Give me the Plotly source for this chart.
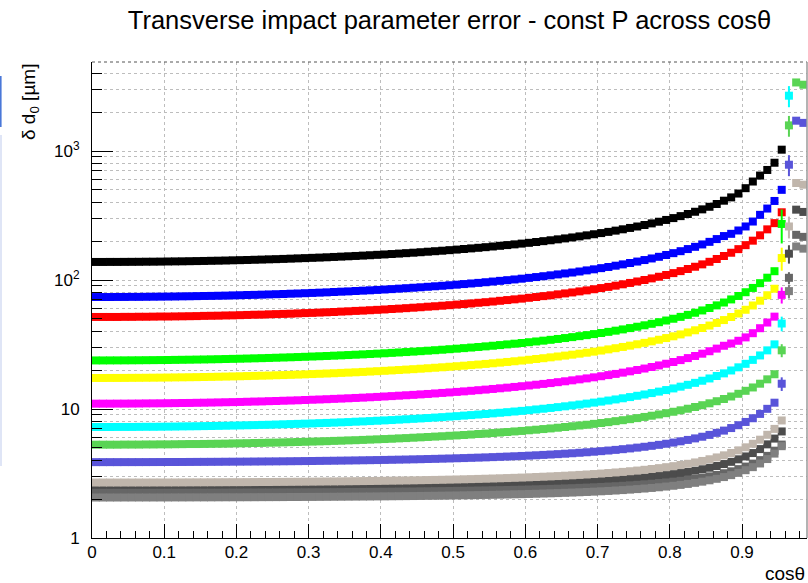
import plotly.graph_objects as go

# cos(theta) binning: 99 bins of width 0.01 from 0 to 0.99
BIN_WIDTH = 0.01
N_BINS = 99
cos_theta = [round(BIN_WIDTH * (i + 0.5), 3) for i in range(N_BINS)]

x_ticks = [0.0, 0.1, 0.2, 0.3, 0.4, 0.5, 0.6, 0.7, 0.8, 0.9]
x_ticktext = ["0", "0.1", "0.2", "0.3", "0.4", "0.5", "0.6", "0.7", "0.8", "0.9"]
y_ticks = [1, 10, 100, 1000]
y_ticktext = ["1", "10", "10<sup>2</sup>", "10<sup>3</sup>"]

# delta d0 [um] per cos(theta) bin, one list per momentum
d0_black = [
    138.0, 138.0, 138.1, 138.1, 138.2, 138.3, 138.4, 138.6, 138.7, 138.9,
    139.2, 139.4, 139.6, 139.9, 140.2, 140.5, 140.9, 141.2, 141.6, 142.1,
    142.5, 143.0, 143.5, 144.0, 144.6, 145.1, 145.7, 146.4, 147.1, 147.8,
    148.5, 149.2, 150.0, 150.9, 151.8, 152.7, 153.6, 154.6, 155.6, 156.7,
    157.8, 159.0, 160.2, 161.5, 162.8, 164.2, 165.7, 167.2, 168.7, 170.4,
    172.1, 173.9, 175.8, 177.7, 179.7, 181.9, 184.1, 186.5, 188.9, 191.5,
    194.2, 197.1, 200.1, 203.2, 206.6, 210.1, 213.8, 217.8, 221.9, 226.3,
    231.1, 236.1, 241.4, 247.2, 253.3, 259.9, 267.0, 274.7, 283.0, 292.1,
    302.0, 312.8, 324.8, 338.1, 352.9, 369.5, 388.3, 412, 437, 468,
    515, 580, 645, 713, 811, 1024,
]
d0_red = [
    51.7, 51.7, 51.7, 51.7, 51.8, 51.8, 51.9, 51.9, 52.0, 52.1,
    52.1, 52.2, 52.3, 52.4, 52.5, 52.7, 52.8, 52.9, 53.1, 53.2,
    53.4, 53.6, 53.8, 53.9, 54.2, 54.4, 54.6, 54.8, 55.1, 55.4,
    55.6, 55.9, 56.2, 56.5, 56.9, 57.2, 57.6, 57.9, 58.3, 58.7,
    59.1, 59.6, 60.0, 60.5, 61.0, 61.5, 62.1, 62.6, 63.2, 63.8,
    64.5, 65.1, 65.8, 66.6, 67.3, 68.1, 69.0, 69.9, 70.8, 71.7,
    72.8, 73.8, 75.0, 76.1, 77.4, 78.7, 80.1, 81.6, 83.1, 84.8,
    86.6, 88.4, 90.4, 92.6, 94.9, 97.4, 100.0, 102.9, 106.0, 109.4,
    113.1, 117.2, 121.7, 126.7, 132.2, 138.4, 145.5, 153.5, 162.7, 173.5,
    186.3, 201.8, 222, 247, 276, 335,
]
d0_green = [
    23.8, 23.8, 23.81, 23.82, 23.83, 23.85, 23.87, 23.9, 23.92, 23.95,
    23.99, 24.03, 24.07, 24.11, 24.16, 24.21, 24.27, 24.33, 24.4, 24.47,
    24.54, 24.62, 24.7, 24.78, 24.87, 24.97, 25.07, 25.17, 25.28, 25.39,
    25.52, 25.64, 25.77, 25.91, 26.05, 26.2, 26.35, 26.51, 26.68, 26.86,
    27.04, 27.23, 27.43, 27.64, 27.85, 28.08, 28.31, 28.56, 28.81, 29.08,
    29.35, 29.64, 29.95, 30.26, 30.59, 30.94, 31.3, 31.68, 32.08, 32.49,
    32.93, 33.39, 33.87, 34.38, 34.92, 35.48, 36.08, 36.71, 37.37, 38.08,
    38.83, 39.64, 40.49, 41.4, 42.38, 43.43, 44.55, 45.77, 47.09, 48.52,
    50.08, 51.79, 53.67, 55.75, 58.07, 60.66, 63.58, 66.9, 70.7, 75.2,
    80.4, 86.8, 94.5, 104.2, 117.0, 272,
]
d0_blue = [
    73.8, 73.8, 73.8, 73.9, 73.9, 74.0, 74.0, 74.1, 74.2, 74.3,
    74.4, 74.5, 74.7, 74.8, 75.0, 75.2, 75.3, 75.5, 75.7, 76.0,
    76.2, 76.5, 76.7, 77.0, 77.3, 77.6, 77.9, 78.3, 78.6, 79.0,
    79.4, 79.8, 80.2, 80.7, 81.2, 81.6, 82.2, 82.7, 83.2, 83.8,
    84.4, 85.0, 85.7, 86.4, 87.1, 87.8, 88.6, 89.4, 90.2, 91.1,
    92.0, 93.0, 94.0, 95.0, 96.1, 97.3, 98.5, 99.7, 101.0, 102.4,
    103.9, 105.4, 107.0, 108.7, 110.5, 112.4, 114.3, 116.4, 118.7, 121.0,
    123.6, 126.2, 129.1, 132.2, 135.5, 139.0, 142.8, 146.9, 151.3, 156.2,
    161.5, 167.3, 173.7, 180.8, 188.7, 197.6, 207.6, 219.1, 228, 242,
    260, 284, 320, 358, 410, 500,
]
d0_yellow = [
    17.4, 17.4, 17.41, 17.41, 17.42, 17.44, 17.45, 17.47, 17.49, 17.51,
    17.54, 17.57, 17.6, 17.63, 17.66, 17.7, 17.74, 17.79, 17.84, 17.89,
    17.94, 18.0, 18.06, 18.12, 18.18, 18.26, 18.33, 18.4, 18.48, 18.56,
    18.66, 18.75, 18.84, 18.94, 19.05, 19.15, 19.26, 19.38, 19.51, 19.64,
    19.77, 19.91, 20.05, 20.21, 20.36, 20.53, 20.7, 20.88, 21.06, 21.26,
    21.46, 21.67, 21.9, 22.12, 22.36, 22.62, 22.88, 23.16, 23.45, 23.75,
    24.08, 24.41, 24.76, 25.14, 25.53, 25.94, 26.38, 26.84, 27.32, 27.84,
    28.39, 28.98, 29.6, 30.27, 30.98, 31.75, 32.57, 33.46, 34.43, 35.47,
    36.61, 37.86, 39.24, 40.76, 42.46, 44.35, 46.48, 48.91, 51.69, 54.98,
    58.78, 63.46, 69.09, 76.18, 85.54, 148,
]
d0_magenta = [
    11.0, 11.0, 11.0, 11.01, 11.01, 11.02, 11.03, 11.05, 11.06, 11.07,
    11.09, 11.11, 11.13, 11.14, 11.17, 11.19, 11.22, 11.25, 11.28, 11.31,
    11.34, 11.38, 11.42, 11.45, 11.5, 11.54, 11.59, 11.63, 11.68, 11.74,
    11.8, 11.85, 11.91, 11.98, 12.04, 12.11, 12.18, 12.25, 12.33, 12.41,
    12.5, 12.59, 12.68, 12.78, 12.87, 12.98, 13.08, 13.2, 13.32, 13.44,
    13.57, 13.7, 13.84, 13.99, 14.14, 14.3, 14.47, 14.64, 14.83, 15.02,
    15.22, 15.43, 15.65, 15.89, 16.14, 16.4, 16.68, 16.97, 17.27, 17.6,
    17.95, 18.32, 18.71, 19.14, 19.59, 20.07, 20.59, 21.16, 21.77, 22.43,
    23.15, 23.94, 24.81, 25.77, 26.84, 28.04, 29.39, 30.92, 32.2, 33.8,
    35.9, 38.7, 42.3, 46.8, 52.0, 76.7,
]
d0_cyan = [
    7.25, 7.25, 7.25, 7.26, 7.26, 7.26, 7.27, 7.28, 7.28, 7.29,
    7.3, 7.31, 7.33, 7.34, 7.35, 7.37, 7.38, 7.4, 7.42, 7.44,
    7.46, 7.48, 7.5, 7.53, 7.55, 7.58, 7.61, 7.64, 7.67, 7.7,
    7.73, 7.77, 7.8, 7.84, 7.88, 7.92, 7.97, 8.01, 8.06, 8.11,
    8.16, 8.21, 8.27, 8.33, 8.39, 8.45, 8.51, 8.58, 8.65, 8.73,
    8.8, 8.89, 8.97, 9.06, 9.15, 9.25, 9.35, 9.45, 9.56, 9.67,
    9.79, 9.92, 10.05, 10.19, 10.34, 10.49, 10.66, 10.83, 11.01, 11.21,
    11.41, 11.63, 11.86, 12.11, 12.37, 12.66, 12.96, 13.29, 13.64, 14.02,
    14.44, 14.9, 15.4, 15.95, 16.56, 17.25, 18.02, 18.89, 19.89, 21.04,
    22.4, 24.03, 26.01, 28.48, 31.7, 46.0, 2685,
]
d0_green8 = [
    5.29, 5.29, 5.29, 5.29, 5.3, 5.3, 5.3, 5.31, 5.31, 5.32,
    5.32, 5.33, 5.34, 5.35, 5.35, 5.36, 5.37, 5.38, 5.39, 5.41,
    5.42, 5.43, 5.45, 5.46, 5.48, 5.49, 5.51, 5.53, 5.55, 5.57,
    5.59, 5.61, 5.63, 5.66, 5.68, 5.71, 5.73, 5.76, 5.79, 5.82,
    5.85, 5.88, 5.92, 5.95, 5.99, 6.03, 6.07, 6.11, 6.15, 6.2,
    6.24, 6.29, 6.34, 6.4, 6.45, 6.51, 6.57, 6.63, 6.7, 6.76,
    6.84, 6.91, 6.99, 7.07, 7.16, 7.25, 7.35, 7.45, 7.55, 7.67,
    7.79, 7.91, 8.05, 8.19, 8.34, 8.5, 8.68, 8.87, 9.07, 9.28,
    9.52, 9.77, 10.05, 10.36, 10.7, 11.07, 11.49, 11.96, 12.5, 13.12,
    13.84, 14.69, 15.71, 16.98, 18.6, 28.5, 1580, 3400, 3265,
]
d0_blue9 = [
    3.873, 3.873, 3.874, 3.874, 3.875, 3.875, 3.876, 3.877, 3.879, 3.88,
    3.882, 3.883, 3.885, 3.887, 3.89, 3.892, 3.895, 3.897, 3.901, 3.904,
    3.907, 3.911, 3.915, 3.919, 3.923, 3.927, 3.932, 3.937, 3.942, 3.948,
    3.954, 3.96, 3.966, 3.973, 3.98, 3.987, 3.995, 4.003, 4.011, 4.02,
    4.029, 4.039, 4.049, 4.059, 4.071, 4.082, 4.094, 4.107, 4.121, 4.135,
    4.15, 4.165, 4.182, 4.199, 4.217, 4.237, 4.257, 4.278, 4.301, 4.325,
    4.35, 4.377, 4.406, 4.436, 4.468, 4.502, 4.539, 4.578, 4.62, 4.665,
    4.713, 4.765, 4.821, 4.882, 4.947, 5.019, 5.096, 5.182, 5.275, 5.378,
    5.491, 5.618, 5.759, 5.917, 6.095, 6.299, 6.532, 6.801, 7.116, 7.488,
    7.935, 8.481, 9.161, 10.03, 11.19, 15.7, 783, 1718, 1652,
]
d0_beige = [
    2.691, 2.691, 2.691, 2.691, 2.692, 2.692, 2.693, 2.693, 2.694, 2.695,
    2.695, 2.696, 2.697, 2.699, 2.7, 2.701, 2.703, 2.704, 2.706, 2.708,
    2.709, 2.711, 2.714, 2.716, 2.718, 2.721, 2.723, 2.726, 2.729, 2.732,
    2.735, 2.738, 2.742, 2.745, 2.749, 2.753, 2.757, 2.762, 2.766, 2.771,
    2.776, 2.782, 2.787, 2.793, 2.799, 2.806, 2.813, 2.82, 2.827, 2.835,
    2.843, 2.852, 2.861, 2.871, 2.881, 2.892, 2.903, 2.915, 2.927, 2.941,
    2.955, 2.97, 2.986, 3.003, 3.021, 3.04, 3.061, 3.083, 3.107, 3.132,
    3.159, 3.189, 3.221, 3.255, 3.293, 3.333, 3.378, 3.427, 3.48, 3.54,
    3.605, 3.679, 3.76, 3.853, 3.957, 4.076, 4.213, 4.372, 4.558, 4.78,
    5.046, 5.373, 5.782, 6.309, 7.011, 8.15, 260, 565, 548,
]
d0_dark = [
    2.41, 2.41, 2.411, 2.411, 2.411, 2.411, 2.412, 2.412, 2.413, 2.413,
    2.414, 2.415, 2.416, 2.416, 2.417, 2.418, 2.42, 2.421, 2.422, 2.423,
    2.425, 2.426, 2.428, 2.43, 2.432, 2.433, 2.435, 2.438, 2.44, 2.442,
    2.445, 2.447, 2.45, 2.453, 2.456, 2.459, 2.462, 2.465, 2.469, 2.473,
    2.477, 2.481, 2.485, 2.49, 2.494, 2.499, 2.505, 2.51, 2.516, 2.522,
    2.528, 2.535, 2.542, 2.55, 2.558, 2.566, 2.575, 2.584, 2.594, 2.604,
    2.615, 2.627, 2.64, 2.653, 2.667, 2.682, 2.698, 2.716, 2.734, 2.754,
    2.776, 2.799, 2.824, 2.851, 2.881, 2.913, 2.948, 2.987, 3.029, 3.076,
    3.129, 3.187, 3.252, 3.326, 3.41, 3.505, 3.615, 3.744, 3.894, 4.073,
    4.289, 4.555, 4.889, 5.32, 5.897, 6.7, 160, 351, 337,
]
d0_gray = [
    2.24, 2.24, 2.24, 2.241, 2.241, 2.241, 2.241, 2.242, 2.242, 2.242,
    2.243, 2.243, 2.244, 2.244, 2.245, 2.246, 2.246, 2.247, 2.248, 2.249,
    2.25, 2.251, 2.252, 2.253, 2.254, 2.256, 2.257, 2.258, 2.26, 2.261,
    2.263, 2.265, 2.267, 2.268, 2.27, 2.272, 2.275, 2.277, 2.279, 2.282,
    2.284, 2.287, 2.29, 2.293, 2.296, 2.3, 2.303, 2.307, 2.311, 2.315,
    2.319, 2.324, 2.329, 2.334, 2.339, 2.345, 2.35, 2.357, 2.363, 2.37,
    2.378, 2.386, 2.395, 2.404, 2.413, 2.424, 2.435, 2.447, 2.459, 2.473,
    2.488, 2.504, 2.521, 2.54, 2.56, 2.583, 2.607, 2.634, 2.664, 2.697,
    2.734, 2.776, 2.822, 2.875, 2.935, 3.004, 3.084, 3.177, 3.287, 3.419,
    3.578, 3.774, 4.015, 4.332, 4.752, 5.3, 104, 224, 216,
]
d0_lightgray = [
    2.06, 2.06, 2.06, 2.06, 2.061, 2.061, 2.061, 2.061, 2.061, 2.062,
    2.062, 2.063, 2.063, 2.064, 2.065, 2.065, 2.066, 2.067, 2.068, 2.069,
    2.069, 2.07, 2.071, 2.073, 2.074, 2.075, 2.076, 2.078, 2.079, 2.081,
    2.082, 2.084, 2.086, 2.088, 2.09, 2.092, 2.094, 2.096, 2.098, 2.101,
    2.103, 2.106, 2.109, 2.112, 2.115, 2.118, 2.122, 2.125, 2.129, 2.133,
    2.137, 2.142, 2.146, 2.151, 2.157, 2.162, 2.168, 2.174, 2.181, 2.187,
    2.195, 2.203, 2.211, 2.22, 2.229, 2.239, 2.25, 2.262, 2.274, 2.287,
    2.302, 2.317, 2.334, 2.352, 2.372, 2.394, 2.418, 2.444, 2.473, 2.505,
    2.541, 2.581, 2.626, 2.677, 2.734, 2.801, 2.877, 2.967, 3.071, 3.199,
    3.354, 3.543, 3.782, 4.093, 4.511, 5.15, 82, 182, 175,
]

# statistical errors on the sparsely populated forward bins (bin centre -> error)
err_green = {0.955: 80}
err_yellow = {0.955: 30}
err_magenta = {0.955: 11}
err_cyan = {0.955: 6, 0.965: 500}
err_green8 = {0.955: 3.3, 0.965: 290}
err_blue9 = {0.955: 1.9, 0.965: 145}
err_beige = {0.965: 50}
err_dark = {0.965: 26}
err_gray = {0.965: 11}
err_lightgray = {0.965: 10}

# ROOT palette colours 1-14 (10 = white is skipped)
series = [
    ("black", d0_black, {}, "#000000"),
    ("red", d0_red, {}, "#ff0000"),
    ("green", d0_green, err_green, "#00ff00"),
    ("blue", d0_blue, {}, "#0000ff"),
    ("yellow", d0_yellow, err_yellow, "#ffff00"),
    ("magenta", d0_magenta, err_magenta, "#ff00ff"),
    ("cyan", d0_cyan, err_cyan, "#00ffff"),
    ("green8", d0_green8, err_green8, "#59d454"),
    ("blue9", d0_blue9, err_blue9, "#5954d9"),
    ("dark", d0_dark, err_dark, "#4c4c4c"),
    ("beige", d0_beige, err_beige, "#c0b6ac"),
    ("gray", d0_gray, err_gray, "#666666"),
    ("lightgray", d0_lightgray, err_lightgray, "#7f7f7f"),
]

fig = go.Figure()
for name, vals, errs, color in series:
    xs = cos_theta[:len(vals)]
    err_arr = [errs.get(x, 0) for x in xs]
    fig.add_trace(go.Scatter(
        x=xs, y=vals, mode="markers", name=name,
        marker=dict(symbol="square", size=8, color=color, line=dict(width=0)),
        error_y=dict(type="data", array=err_arr, visible=True,
                     thickness=2, width=0, color=color),
        hoverinfo="x+y",
    ))

W, H = 808, 583
ML, MR, MT, MB = 92, 1, 62, 45
PW, PH = W - ML - MR, H - MT - MB


def px_x(p):
    return (p - ML) / PW


def px_y(p):
    return 1 - (p - MT) / PH


GRID = "#bdbdbd"
FONT = "Liberation Sans, Arial, Helvetica, sans-serif"

x_minor = [round(0.02 * i, 2) for i in range(1, 50) if i % 5]
y_minor = [m * 10 ** e for e in range(0, 4) for m in range(2, 10) if m * 10 ** e < 5000]

fig.update_xaxes(
    range=[0, 0.99], tickmode="array", tickvals=x_ticks, ticktext=x_ticktext,
    ticks="inside", ticklen=14, tickwidth=1, tickcolor="black",
    showline=True, linecolor="black", linewidth=1, mirror=False,
    showgrid=True, gridcolor=GRID, gridwidth=1, griddash="dot", zeroline=False,
    minor=dict(tickmode="array", tickvals=x_minor, ticks="inside", ticklen=7,
               tickcolor="black", tickwidth=1, showgrid=False),
    tickfont=dict(family=FONT, size=17, color="black"), ticklabelstandoff=-1,
)
fig.update_yaxes(
    type="log", range=[0, 3.69], tickmode="array", tickvals=y_ticks,
    ticktext=y_ticktext, ticks="inside", ticklen=21, tickwidth=1, tickcolor="black",
    showline=True, linecolor="black", linewidth=1, mirror=False,
    showgrid=True, gridcolor=GRID, gridwidth=1, griddash="dot", zeroline=False,
    minor=dict(tickmode="array", tickvals=y_minor, ticks="inside", ticklen=10,
               tickcolor="black", tickwidth=1, showgrid=True, gridcolor=GRID,
               gridwidth=1, griddash="dot"),
    tickfont=dict(family=FONT, size=17, color="black"), ticklabelstandoff=8,
)

fig.update_layout(
    width=W, height=H,
    margin=dict(l=ML, r=MR, t=MT, b=MB, pad=0),
    paper_bgcolor="white", plot_bgcolor="white",
    showlegend=False,
    font=dict(family=FONT, color="black"),
    title=dict(text="Transverse impact parameter error - const P across cos\u03b8",
               x=0.5, xref="paper", xanchor="center",
               y=1 - 20 / H, yref="container", yanchor="middle",
               font=dict(family=FONT, size=25.5, color="black")),
    annotations=[
        dict(text="\u03b4 d<sub>0</sub> [\u00b5m]", textangle=-90,
             xref="paper", yref="paper", x=px_x(30), y=1,
             xanchor="center", yanchor="top", showarrow=False,
             font=dict(family=FONT, size=19, color="black")),
        dict(text="cos\u03b8", xref="paper", yref="paper", x=1, y=px_y(573),
             xanchor="right", yanchor="middle", showarrow=False,
             font=dict(family=FONT, size=19, color="black")),
    ],
    shapes=[
        dict(type="line", xref="paper", yref="paper", x0=0, x1=1, y0=1, y1=1,
             line=dict(color="#555555", width=1, dash="dot")),
        dict(type="line", xref="paper", yref="paper", x0=1, x1=1, y0=0, y1=1,
             line=dict(color="#9a9a9a", width=1.5)),
        dict(type="line", xref="paper", yref="paper", x0=px_x(0.8), x1=px_x(0.8),
             y0=px_y(76), y1=px_y(127), line=dict(color="#4a78d8", width=1.6)),
        dict(type="line", xref="paper", yref="paper", x0=px_x(1), x1=px_x(1),
             y0=px_y(135), y1=px_y(466), line=dict(color="#dfe5f6", width=2)),
    ],
)

fig.write_html("out.html")
